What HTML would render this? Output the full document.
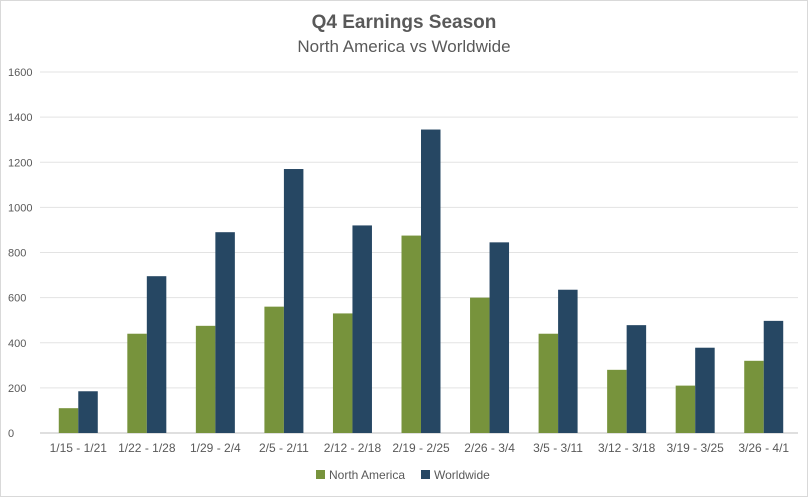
<!DOCTYPE html>
<html><head><meta charset="utf-8"><style>
body{margin:0;background:#fff;}
svg text{font-family:"Liberation Sans","DejaVu Sans",sans-serif;}
</style></head><body>
<svg id="chart" width="808" height="497">
<rect x="0.5" y="0.5" width="807" height="496" fill="#fff" stroke="#d9d9d9"/>
<text x="404" y="28" text-anchor="middle" font-size="19" font-weight="bold" fill="#595959">Q4 Earnings Season</text>
<text x="404" y="52" text-anchor="middle" font-size="17" fill="#595959">North America vs Worldwide</text>
<g id="grid"></g><g id="bars"></g><g id="xlabels"></g>
<g>
<rect x="316" y="470" width="9" height="9" fill="#77933c"/>
<text x="329" y="479" font-size="12" fill="#595959">North America</text>
<rect x="421" y="470" width="9" height="9" fill="#264763"/>
<text x="434" y="479" font-size="12" fill="#595959">Worldwide</text>
</g>
</svg>
<script>
const categories=["1/15 - 1/21","1/22 - 1/28","1/29 - 2/4","2/5 - 2/11","2/12 - 2/18","2/19 - 2/25","2/26 - 3/4","3/5 - 3/11","3/12 - 3/18","3/19 - 3/25","3/26 - 4/1"];
const northAmerica=[110,440,475,560,530,875,600,440,280,210,320];
const worldwide=[185,695,890,1170,920,1345,845,635,478,378,497];
const yTicks=[0,200,400,600,800,1000,1200,1400,1600];
const NS="http://www.w3.org/2000/svg";
const plotLeft=44,plotRight=798,plotTop=72,plotBottom=433,yMax=1600;
const yScale=v=>plotBottom-(v/yMax)*(plotBottom-plotTop);
const band=(plotRight-plotLeft)/categories.length;
const xc=i=>plotLeft+band*(i+0.5);
const bw=19.5;
function mk(t,a,p){const e=document.createElementNS(NS,t);for(const k in a)e.setAttribute(k,a[k]);p.appendChild(e);return e;}
const grid=document.getElementById('grid'),bars=document.getElementById('bars'),xl=document.getElementById('xlabels');
yTicks.forEach(t=>{
 const l=mk('line',{x1:40,x2:plotRight,y1:yScale(t),y2:yScale(t),stroke:t===0?'#bfbfbf':'#e3e3e3','stroke-width':1},grid);
 
 
 const tx=mk('text',{x:8,y:yScale(t)+4,'font-size':11,fill:'#595959'},grid);
 tx.textContent=t;
 
 
});
categories.forEach((c,i)=>{
 const r1=mk('rect',{x:xc(i)-bw,y:yScale(northAmerica[i]),width:bw,height:plotBottom-yScale(northAmerica[i]),fill:'#77933c'},bars);
 
 
 const r2=mk('rect',{x:xc(i),y:yScale(worldwide[i]),width:bw,height:plotBottom-yScale(worldwide[i]),fill:'#264763'},bars);
 
 
 const t=mk('text',{x:xc(i),y:452,'text-anchor':'middle','font-size':12,fill:'#595959'},xl);
 t.textContent=c;
 
 
});
</script>
</body></html>
